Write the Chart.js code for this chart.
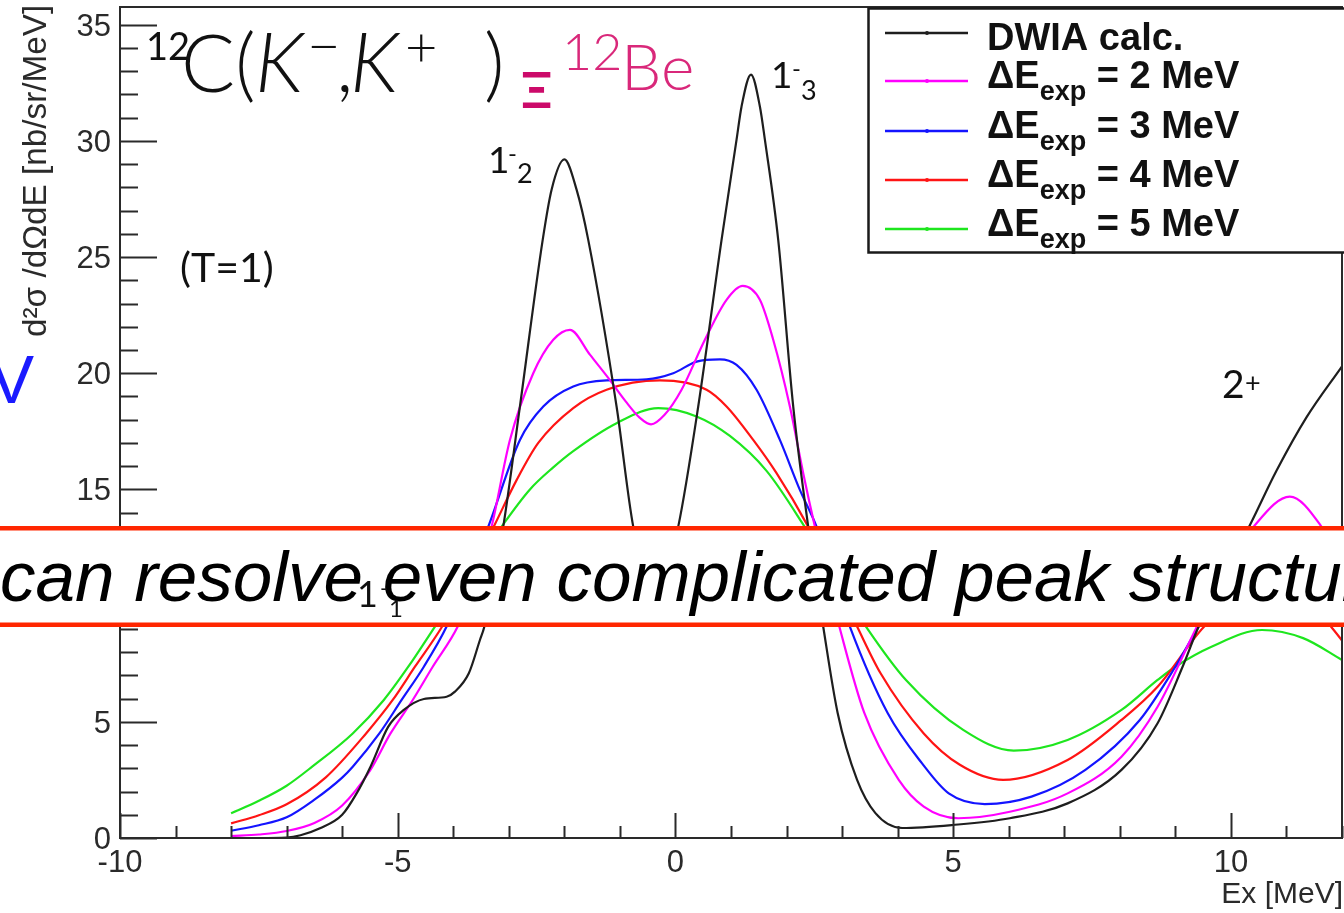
<!DOCTYPE html>
<html lang="en">
<head>
  <meta charset="UTF-8">
  <title>12C(K-,K+) Xi 12Be DWIA spectrum</title>
  <script src="https://cdn.jsdelivr.net/npm/chart.js"></script>
  <style>
    html, body { margin: 0; padding: 0; background: #fff; overflow: hidden; }
    #wrap { position: relative; width: 1344px; height: 913px; }
  </style>
</head>
<body>
<div id="wrap"><canvas id="spectrum" width="1344" height="913"></canvas></div>
<script>
  // Ex [MeV] samples and d2sigma/dOmega dE [nb/sr/MeV] for each curve
  const dwiaE  = [-8, -7.5, -7, -6.75, -6.4, -6.0, -5.74, -5.49, -5.17, -4.89, -4.53, -4.12, -3.97, -3.72, -3.52, -3.44, -3.1, -2.8, -2.39, -2.23, -2.0, -1.78, -1.57, -1.06, -0.76, -0.35, 0.05, 0.41, 0.83, 1.1, 1.19, 1.36, 1.52, 1.61, 1.85, 2.12, 2.39, 2.66, 2.92, 3.27, 3.6, 4.08, 4.99, 6.02, 7.06, 8.03, 8.68, 9.13, 9.42, 9.9, 10.37, 10.82, 11.36, 12.0];
  const dwiaXs = [0, 0, 0.02, 0.12, 0.42, 1.0, 1.92, 3.07, 4.79, 5.51, 5.98, 6.08, 6.3, 7.09, 8.52, 9.1, 13.4, 18.57, 25.74, 27.9, 29.2, 27.9, 25.74, 18.57, 13.4, 10.0, 13.4, 18.57, 25.74, 30.05, 31.48, 32.85, 31.48, 30.05, 25.74, 18.57, 13.4, 9.1, 5.38, 2.5, 1.07, 0.43, 0.56, 0.85, 1.49, 2.93, 4.94, 7.37, 9.1, 11.4, 13.6, 15.8, 18.1, 20.3];

  const res2E  = [-8, -7.5, -7, -6.5, -6.0, -5.5, -5.13, -4.73, -4.37, -3.92, -3.6, -3.31, -2.98, -2.56, -2.2, -1.9, -1.54, -1.21, -0.9, -0.65, -0.44, -0.2, 0.11, 0.53, 0.92, 1.21, 1.52, 1.76, 2.06, 2.3, 2.51, 2.75, 2.95, 3.4, 4.02, 4.47, 5.09, 6.02, 7.06, 8.03, 8.68, 9.33, 9.9, 10.41, 11.06, 11.63, 12.0];
  const res2Xs = [0.08, 0.15, 0.3, 0.65, 1.4, 2.9, 4.5, 5.94, 7.37, 9.1, 11.0, 13.4, 17.13, 20.0, 21.44, 21.87, 20.8, 19.8, 18.8, 18.1, 17.8, 18.2, 19.29, 21.44, 23.16, 23.76, 23.16, 21.44, 18.57, 15.7, 13.4, 11.0, 9.1, 5.38, 2.5, 1.35, 0.85, 1.13, 1.92, 3.5, 5.65, 8.81, 11.6, 13.4, 14.69, 13.4, 11.8];

  const res3E  = [-8, -7.5, -7, -6.5, -6.0, -5.81, -5.33, -4.93, -4.53, -4.12, -3.75, -3.37, -2.8, -2.38, -1.84, -1.24, -0.52, -0.04, 0.38, 0.8, 1.1, 1.46, 1.88, 2.24, 2.54, 2.85, 3.14, 3.82, 4.44, 4.92, 5.57, 6.41, 7.38, 8.36, 9.0, 9.42, 10.0, 10.5, 11.0, 11.5, 12.0];
  const res3Xs = [0.31, 0.55, 0.89, 1.65, 2.6, 3.07, 4.5, 5.94, 7.37, 9.1, 11.2, 13.4, 17.13, 18.57, 19.43, 19.69, 19.74, 20.0, 20.5, 20.6, 20.36, 19.29, 17.13, 14.98, 13.4, 11.2, 9.1, 5.38, 3.21, 1.92, 1.46, 1.78, 2.93, 5.08, 7.37, 9.1, 11.2, 12.2, 12.5, 12.1, 11.0];

  const res4E  = [-8, -7.5, -7, -6.3, -5.57, -5.09, -4.69, -4.2, -3.7, -3.25, -2.86, -2.47, -1.84, -1.24, -0.28, 0.56, 0.92, 1.4, 1.82, 2.39, 2.85, 3.27, 3.69, 4.47, 5.12, 5.9, 7.06, 8.03, 8.68, 9.52, 10.2, 10.8, 11.4, 11.8, 12.0];
  const res4Xs = [0.63, 0.98, 1.45, 2.6, 4.5, 5.94, 7.37, 9.1, 11.3, 13.5, 15.4, 17.0, 18.5, 19.29, 19.69, 19.29, 18.57, 17.13, 15.7, 13.4, 11.2, 9.1, 7.1, 4.5, 3.15, 2.5, 3.36, 5.08, 6.51, 9.1, 10.4, 10.8, 10.2, 9.1, 8.5];

  const res5E  = [-8, -7.5, -7, -6.54, -5.81, -5.25, -4.81, -4.33, -3.7, -3.13, -2.62, -2.2, -1.84, -1.06, -0.31, 0.38, 0.98, 1.64, 2.27, 2.85, 3.43, 4.15, 5.18, 6.09, 7.06, 8.03, 8.68, 9.0, 9.65, 10.56, 11.3, 12.0];
  const res5Xs = [1.06, 1.6, 2.25, 3.07, 4.5, 5.94, 7.37, 9.1, 11.4, 13.4, 15.0, 15.95, 16.65, 17.85, 18.5, 18.14, 17.3, 15.8, 13.6, 11.3, 9.1, 6.8, 4.65, 3.76, 4.22, 5.51, 6.8, 7.37, 8.23, 8.95, 8.6, 7.66];

  const resolutions = [2, 3, 4, 5];   // MeV
  const xTickLabels = [-10, -5, 0, 5, 10];
  const yTickLabels = [0, 5, 10, 15, 20, 25, 30, 35];

  function pts(es, xs) { return es.map((e, i) => ({ x: e, y: xs[i] })); }

  const datasets = [
    { label: 'DWIA calc.', data: pts(dwiaE, dwiaXs), borderColor: '#1e1e1e' },
    { label: 'ΔE_exp = ' + resolutions[0] + ' MeV', data: pts(res2E, res2Xs), borderColor: '#ff00ff' },
    { label: 'ΔE_exp = ' + resolutions[1] + ' MeV', data: pts(res3E, res3Xs), borderColor: '#1414ff' },
    { label: 'ΔE_exp = ' + resolutions[2] + ' MeV', data: pts(res4E, res4Xs), borderColor: '#ff1414' },
    { label: 'ΔE_exp = ' + resolutions[3] + ' MeV', data: pts(res5E, res5Xs), borderColor: '#1ee61e' },
  ];

  const AXIS = '#2a2a2a';
  const SANS = '"Liberation Sans", Arial, sans-serif';
  const GEO = 'Lato, "Noto Sans", sans-serif';

  function text(ctx, str, x, y, font, color, align) {
    ctx.font = font;
    ctx.fillStyle = color;
    ctx.textAlign = align || 'left';
    ctx.textBaseline = 'alphabetic';
    ctx.fillText(str, x, y);
  }

  // ROOT-like frame: inward ticks, labels, titles, legend box and the overlay banner
  const rootStyle = {
    id: 'rootStyle',
    afterDatasetsDraw(chart) {
      const ctx = chart.ctx;
      const { left, right, top, bottom } = chart.chartArea;
      const xs = chart.scales.x, ys = chart.scales.y;
      ctx.save();

      // frame
      ctx.strokeStyle = AXIS;
      ctx.lineWidth = 2;
      ctx.strokeRect(left, top, right - left, bottom - top);

      // y ticks (major every 5, minor every 1)
      ctx.beginPath();
      for (let v = 0; v <= ys.max; v++) {
        const y = Math.round(ys.getPixelForValue(v)) + 0.5;
        const len = v % 5 === 0 ? 37 : 18;
        ctx.moveTo(left, y);
        ctx.lineTo(left + len, y);
      }
      // x ticks
      for (let v = xs.min; v <= xs.max; v++) {
        const x = Math.round(xs.getPixelForValue(v)) + 0.5;
        const len = v % 5 === 0 ? 25 : 12;
        ctx.moveTo(x, bottom);
        ctx.lineTo(x, bottom - len);
      }
      ctx.stroke();

      // tick labels
      yTickLabels.forEach(v => {
        text(ctx, String(v), left - 9, ys.getPixelForValue(v) + 11, '31px ' + SANS, AXIS, 'right');
      });
      xTickLabels.forEach(v => {
        text(ctx, String(v), xs.getPixelForValue(v), bottom + 34, '31px ' + SANS, AXIS, 'center');
      });

      // axis titles
      text(ctx, 'Ex [MeV]', right + 1, bottom + 65, '30px ' + SANS, AXIS, 'right');
      ctx.save();
      ctx.translate(46, 337);
      ctx.rotate(-Math.PI / 2);
      const yTitle = 'd²σ /dΩdE [nb/sr/MeV]';
      ctx.font = '31px ' + SANS;
      const fs = 31 * 332 / ctx.measureText(yTitle).width;
      text(ctx, yTitle, 0, 0, fs.toFixed(1) + 'px ' + SANS, AXIS, 'left');
      ctx.restore();

      // legend
      ctx.fillStyle = '#fff';
      ctx.fillRect(868, 8, 500, 245);
      ctx.strokeStyle = '#1a1a1a';
      ctx.lineWidth = 2.5;
      ctx.strokeRect(868.5, 8.5, 500, 244);
      const rows = [33, 81, 131, 180, 229];
      chart.data.datasets.forEach((ds, i) => {
        const ly = rows[i];
        ctx.strokeStyle = ds.borderColor;
        ctx.lineWidth = 2.5;
        ctx.beginPath();
        ctx.moveTo(885, ly);
        ctx.lineTo(968, ly);
        ctx.stroke();
        ctx.fillStyle = ds.borderColor;
        ctx.beginPath();
        ctx.arc(927, ly, 2, 0, Math.PI * 2);
        ctx.fill();
        if (ds.label.indexOf('_exp') < 0) {
          text(ctx, ds.label, 987, ly + 17, 'bold 38px ' + SANS, '#111');
        } else {
          const parts = ds.label.split('_exp');
          let x = 987;
          text(ctx, parts[0], x, ly + 7, 'bold 38px ' + SANS, '#111');
          x += ctx.measureText(parts[0]).width;
          text(ctx, 'exp', x, ly + 19, 'bold 27px ' + SANS, '#111');
          x += ctx.measureText('exp').width;
          text(ctx, parts[1], x, ly + 7, 'bold 38px ' + SANS, '#111');
        }
      });

      // reaction title
      const BLK = '#111';
      text(ctx, '12', 146, 60, '38px ' + GEO, BLK);
      text(ctx, 'C', 181, 92, '300 80px ' + GEO, BLK);
      text(ctx, '(', 235, 92, '300 80px ' + GEO, BLK);
      text(ctx, 'K', 255, 92, 'italic 300 82px ' + GEO, BLK);
      text(ctx, '−', 307, 66, '300 58px ' + GEO, BLK);
      text(ctx, ',', 336, 92, '300 80px ' + GEO, BLK);
      text(ctx, 'K', 350, 92, 'italic 300 82px ' + GEO, BLK);
      text(ctx, '+', 405, 67, '300 56px ' + GEO, BLK);
      text(ctx, ')', 484, 92, '300 80px ' + GEO, BLK);
      text(ctx, 'Ξ', 521, 108, 'bold 50px ' + GEO, '#cc0a6a');
      text(ctx, '12', 562, 70, '300 52px ' + GEO, '#d9287a');
      text(ctx, 'Be', 621, 90, '300 64px ' + GEO, '#d9287a');

      // state labels
      text(ctx, '1', 488, 173, '37px ' + GEO, BLK);
      text(ctx, '-', 508, 162, '24px ' + GEO, BLK);
      text(ctx, '2', 517, 183, '27px ' + GEO, BLK);
      text(ctx, '1', 771, 88, '37px ' + GEO, BLK);
      text(ctx, '-', 792, 77, '24px ' + GEO, BLK);
      text(ctx, '3', 801, 100, '27px ' + GEO, BLK);
      text(ctx, '(T=1)', 180, 282, '41px ' + GEO, BLK);
      text(ctx, '2', 1222, 398, '39px ' + GEO, BLK);
      text(ctx, '+', 1245, 392, '27px ' + GEO, BLK);
      text(ctx, 'V', 34, 403, '68px ' + SANS, '#1a1aff', 'right');

      // banner across the plot
      ctx.fillStyle = '#fff';
      ctx.fillRect(0, 528, chart.width, 96);
      ctx.fillStyle = '#ff2600';
      ctx.fillRect(0, 526, chart.width, 4.5);
      ctx.fillRect(0, 622.5, chart.width, 4.5);
      const lead = 'can resolve even complicated peak ';
      ctx.font = 'italic 65px ' + SANS;
      const bs = 65 * 1128 / ctx.measureText(lead).width;
      text(ctx, lead + 'structure', 0, 601, 'italic ' + bs.toFixed(1) + 'px ' + SANS, '#000');
      text(ctx, '1', 357, 607, '36px ' + GEO, BLK);
      text(ctx, '-', 380, 596, '22px ' + GEO, BLK);
      text(ctx, '1', 389, 617, '24px ' + GEO, BLK);

      ctx.restore();
    }
  };

  new Chart(document.getElementById('spectrum').getContext('2d'), {
    type: 'line',
    data: { datasets: datasets },
    options: {
      responsive: false,
      animation: false,
      events: [],
      layout: { padding: { left: 120, right: 2, top: 7, bottom: 75 } },
      scales: {
        x: { type: 'linear', min: -10, max: 12, display: false },
        y: { type: 'linear', min: 0, max: 35.76, display: false },
      },
      elements: {
        point: { radius: 0 },
        line: { borderWidth: 2.2, cubicInterpolationMode: 'monotone', fill: false },
      },
      plugins: { legend: { display: false }, tooltip: { enabled: false } },
    },
    plugins: [rootStyle],
  });
</script>
</body>
</html>
